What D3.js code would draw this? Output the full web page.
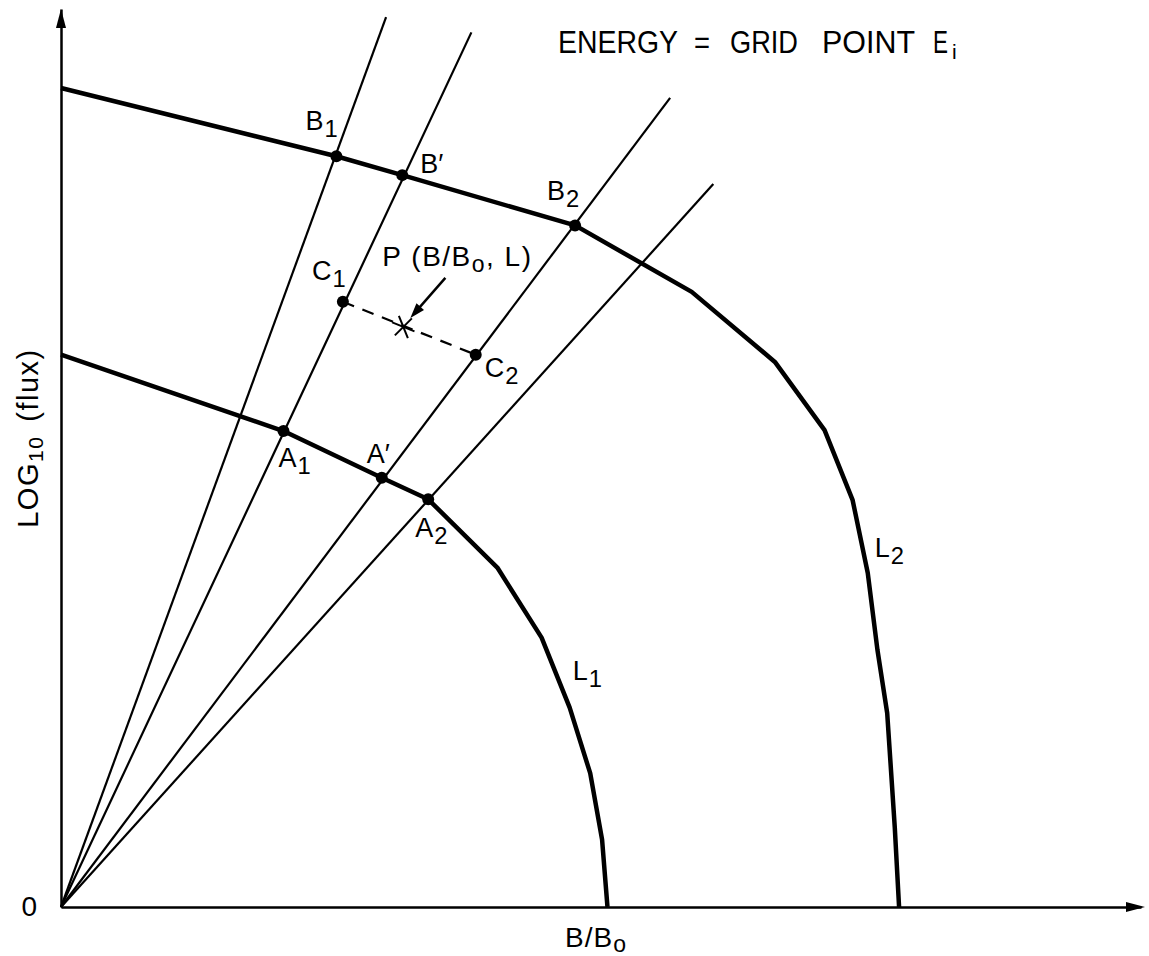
<!DOCTYPE html>
<html>
<head>
<meta charset="utf-8">
<script src="https://cdn.jsdelivr.net/npm/d3@7"></script>
<style>
  html, body { margin: 0; padding: 0; background: #fff; }
  svg { display: block; }
  text { font-family: "Liberation Sans", Arial, sans-serif; fill: #000; }
</style>
</head>
<body>
<svg id="chart" width="1149" height="956"></svg>
<script>
// Flux versus B/B0 along two L shells at a fixed energy (normalised units)
const shellL1X = [0, 0.206, 0.297, 0.340, 0.404, 0.445, 0.471, 0.490, 0.501, 0.506];
const shellL1Y = [0.615, 0.530, 0.478, 0.454, 0.378, 0.300, 0.222, 0.149, 0.075, 0];
const shellL2X = [0, 0.255, 0.316, 0.476, 0.584, 0.661, 0.707, 0.733, 0.747, 0.756, 0.765, 0.772, 0.776];
const shellL2Y = [0.912, 0.836, 0.815, 0.759, 0.685, 0.607, 0.531, 0.453, 0.372, 0.286, 0.216, 0.089, 0];

// Far ends of the constant-ratio rays drawn from the origin
const rayEndX = [0.301, 0.380, 0.564, 0.604];
const rayEndY = [0.991, 0.974, 0.901, 0.805];

// Grid points where the rays meet the shells, and the interpolation points
const gridNames = ["B1", "B\u2032", "B2", "C1", "C2", "A1", "A\u2032", "A2"];
const gridX = [0.255, 0.316, 0.476, 0.261, 0.384, 0.206, 0.297, 0.340];
const gridY = [0.836, 0.815, 0.759, 0.674, 0.615, 0.530, 0.478, 0.454];

// Interpolated point P
const pointP = [0.317, 0.646];

// Title words
const titleWords = ["ENERGY", "=", "GRID", "POINT", "E"];

const svg = d3.select("#chart");
const x = d3.scaleLinear().domain([0, 1]).range([61, 1141]);
const y = d3.scaleLinear().domain([0, 1]).range([907, 9]);

// Axes without ticks, with arrow heads
const xAxis = svg.append("g")
  .attr("transform", `translate(0,${y(0)})`)
  .call(d3.axisBottom(x).tickValues([]).tickSizeOuter(0));
xAxis.select(".domain").attr("stroke", "#000").attr("stroke-width", 2.5);
const yAxis = svg.append("g")
  .attr("transform", `translate(${x(0)},0)`)
  .call(d3.axisLeft(y).tickValues([]).tickSizeOuter(0));
yAxis.select(".domain").attr("stroke", "#000").attr("stroke-width", 2.5);

const xTip = x.range()[1] + 4, yTip = y.range()[1];
svg.append("path")
  .attr("d", `M${xTip},${y(0)}L${xTip - 19},${y(0) - 5}L${xTip - 19},${y(0) + 5}Z`)
  .attr("fill", "#000");
svg.append("path")
  .attr("d", `M${x(0)},${yTip}L${x(0) - 5},${yTip + 19}L${x(0) + 5},${yTip + 19}Z`)
  .attr("fill", "#000");

// Rays
svg.append("g").selectAll("line")
  .data(d3.range(rayEndX.length))
  .join("line")
  .attr("x1", x(0)).attr("y1", y(0))
  .attr("x2", i => x(rayEndX[i])).attr("y2", i => y(rayEndY[i]))
  .attr("stroke", "#000").attr("stroke-width", 2.2);

// Shell curves
const line = d3.line().x(d => x(d[0])).y(d => y(d[1])).curve(d3.curveLinear);
const shells = [d3.zip(shellL1X, shellL1Y), d3.zip(shellL2X, shellL2Y)];
svg.append("g").selectAll("path")
  .data(shells)
  .join("path")
  .attr("d", line)
  .attr("fill", "none")
  .attr("stroke", "#000")
  .attr("stroke-width", 4.5)
  .attr("stroke-linejoin", "round");

// Dashed interpolation segment C1 - C2
const iC1 = gridNames.indexOf("C1"), iC2 = gridNames.indexOf("C2");
svg.append("line")
  .attr("x1", x(gridX[iC1])).attr("y1", y(gridY[iC1]))
  .attr("x2", x(gridX[iC2])).attr("y2", y(gridY[iC2]))
  .attr("stroke", "#000").attr("stroke-width", 2.2)
  .attr("stroke-dasharray", "12,9");

// Grid point dots
svg.append("g").selectAll("circle")
  .data(d3.range(gridNames.length))
  .join("circle")
  .attr("cx", i => x(gridX[i])).attr("cy", i => y(gridY[i]))
  .attr("r", 6).attr("fill", "#000");

// Star marking P
const px = x(pointP[0]), py = y(pointP[1]);
const star = svg.append("g").attr("transform", `translate(${px},${py})`);
[22, 68, -45].forEach(a => {
  const r = a * Math.PI / 180, h = 12;
  star.append("line")
    .attr("x1", -h * Math.cos(r)).attr("y1", -h * Math.sin(r))
    .attr("x2", h * Math.cos(r)).attr("y2", h * Math.sin(r))
    .attr("stroke", "#000").attr("stroke-width", 2);
});

// Arrow pointing at P
const ax0 = px + 42, ay0 = py - 49, ax1 = px + 7, ay1 = py - 9;
const ang = Math.atan2(ay1 - ay0, ax1 - ax0);
svg.append("line")
  .attr("x1", ax0).attr("y1", ay0)
  .attr("x2", ax1 - 10 * Math.cos(ang)).attr("y2", ay1 - 10 * Math.sin(ang))
  .attr("stroke", "#000").attr("stroke-width", 2.5);
svg.append("path")
  .attr("d", () => {
    const bx = ax1 - 15 * Math.cos(ang), by = ay1 - 15 * Math.sin(ang);
    const nx = -Math.sin(ang) * 5, ny = Math.cos(ang) * 5;
    return `M${ax1},${ay1}L${bx + nx},${by + ny}L${bx - nx},${by - ny}Z`;
  })
  .attr("fill", "#000");

// Text helper: main text with an optional lowered subscript
function label(g, tx, ty, main, sub, size) {
  const t = g.append("text").attr("x", tx).attr("y", ty).attr("font-size", size);
  t.append("tspan").text(main);
  if (sub) {
    t.append("tspan")
      .attr("font-size", size * 0.88)
      .attr("dx", 1)
      .attr("dy", 7)
      .text(sub);
  }
  return t;
}

// Grid point labels, offsets in pixels from each dot
const labelOffset = {
  "B1": [-31, -26], "B\u2032": [18, -2], "B2": [-28, -25],
  "C1": [-31, -22], "C2": [9, 22],
  "A1": [-5, 36], "A\u2032": [-15, -15], "A2": [-13, 38]
};
const labels = svg.append("g");
gridNames.forEach((n, i) => {
  const [dx, dy] = labelOffset[n];
  const main = n[0], sub = n.length > 1 && n[1] !== "\u2032" ? n.slice(1) : null;
  label(labels, x(gridX[i]) + dx, y(gridY[i]) + dy, sub ? main : n, sub, 27);
});

// Shell labels
const l1i = 6, l2i = 8;
label(labels, x(shellL1X[l1i]) + 3, y(shellL1Y[l1i]) - 28, "L", "1", 27);
label(labels, x(shellL2X[l2i]) + 7, y(shellL2Y[l2i]) - 16, "L", "2", 27);

// Label for P
const pt = labels.append("text").attr("x", px - 21).attr("y", py - 61)
  .attr("font-size", 28).attr("letter-spacing", 1.5);
pt.append("tspan").text("P (B/B");
pt.append("tspan").attr("font-size", 23).attr("dy", 6).text("o");
pt.append("tspan").attr("dy", -6).text(", L)");

// Title, one tspan per word with wide word gaps
const wordX = [558, 694, 730, 822, 933];
const wordW = [120, 16, 68, 93, 15];
const title = svg.append("text").attr("y", 53).attr("font-size", 31);
titleWords.forEach((w, i) => {
  title.append("tspan").attr("x", wordX[i]).attr("textLength", wordW[i])
    .attr("lengthAdjust", "spacingAndGlyphs").text(w);
});
title.append("tspan").attr("font-size", 21).attr("dx", 4).attr("dy", 6).text("i");

// Axis titles
svg.append("text").attr("x", x(0) - 24).attr("y", y(0) + 9)
  .attr("font-size", 28).attr("text-anchor", "end").text("0");
const xt = svg.append("text").attr("x", 565).attr("y", 947)
  .attr("font-size", 28).attr("letter-spacing", 1);
xt.append("tspan").text("B/B");
xt.append("tspan").attr("font-size", 23).attr("dy", 5).text("o");

const yt = svg.append("text")
  .attr("transform", "translate(38,438) rotate(-90)")
  .attr("text-anchor", "middle").attr("font-size", 29).attr("letter-spacing", 1.5);
yt.append("tspan").text("LOG");
yt.append("tspan").attr("font-size", 21).attr("dy", 5).text("10");
yt.append("tspan").attr("dy", -5).attr("dx", 14).text("(flux)");
</script>
</body>
</html>
